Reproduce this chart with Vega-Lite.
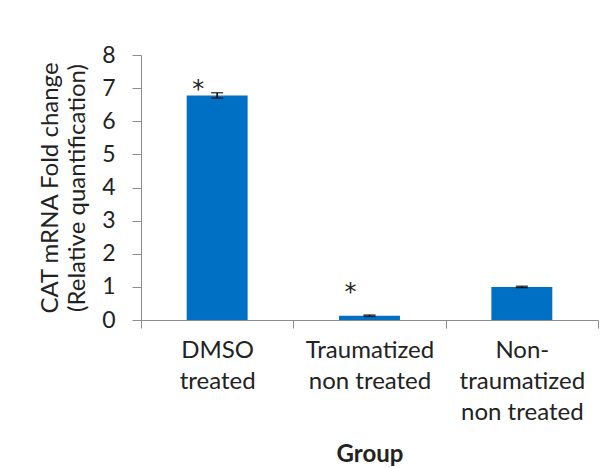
{
  "$schema": "https://vega.github.io/schema/vega-lite/v6.json",
  "autosize": "none",
  "width": 457,
  "height": 265,
  "padding": {"left": 141, "top": 55, "right": 10, "bottom": 148},
  "background": "white",
  "config": {
    "font": "Lato",
    "view": {"stroke": null},
    "axis": {"labelFont": "Lato", "titleFont": "Lato", "labelColor": "#222", "titleColor": "#222", "domainColor": "#8c8c8c", "tickColor": "#8c8c8c", "grid": false},
    "axisY": {"titleFontSize": 24, "titleFontWeight": "normal", "titleLineHeight": 27, "titlePadding": 12, "labelFontSize": 23, "labelOverlap": false, "tickSize": 9, "labelPadding": 17}
  },
  "datasets": {
    "bars": [
      {"group": "DMSO|treated", "value": 6.78, "err": 0.08},
      {"group": "Traumatized|non treated", "value": 0.13, "err": 0.02},
      {"group": "Non-|traumatized|non treated", "value": 1.0, "err": 0.02}
    ],
    "stars": [
      {"group": "DMSO|treated", "y": 7.05, "text": "*"},
      {"group": "Traumatized|non treated", "y": 0.95, "text": "*"}
    ]
  },
  "encoding": {
    "x": {
      "field": "group", "type": "nominal", "sort": null,
      "scale": {"paddingInner": 0, "paddingOuter": 0},
      "axis": {"title": "Group", "titleFontSize": 24, "titleFontWeight": "bold", "titlePadding": 18,
               "labelExpr": "split(datum.label, '|')", "labelFontSize": 24, "labelLineHeight": 31,
               "labelAngle": 0, "labelPadding": 10, "tickBand": "extent", "tickSize": 8, "labelBaseline": "top"}
    }
  },
  "layer": [
    {
      "data": {"name": "bars"},
      "mark": {"type": "bar", "color": "#0070C4", "width": {"band": 0.4}},
      "encoding": {
        "y": {"field": "value", "type": "quantitative", "scale": {"domain": [0, 8]},
              "axis": {"title": ["CAT mRNA Fold change", "(Relative quantification)"], "values": [0,1,2,3,4,5,6,7,8]}}
      }
    },
    {
      "data": {"name": "bars"},
      "transform": [{"calculate": "datum.value - datum.err", "as": "lo"}, {"calculate": "datum.value + datum.err", "as": "hi"}],
      "mark": {"type": "rule", "color": "black", "strokeWidth": 1.5},
      "encoding": {"y": {"field": "lo", "type": "quantitative", "axis": {"title": ["CAT mRNA Fold change", "(Relative quantification)"], "values": [0,1,2,3,4,5,6,7,8]}}, "y2": {"field": "hi"}}
    },
    {
      "data": {"name": "bars"},
      "transform": [{"calculate": "datum.value - datum.err", "as": "lo"}],
      "mark": {"type": "tick", "color": "black", "size": 12, "thickness": 1.5},
      "encoding": {"y": {"field": "lo", "type": "quantitative", "axis": {"title": ["CAT mRNA Fold change", "(Relative quantification)"], "values": [0,1,2,3,4,5,6,7,8]}}}
    },
    {
      "data": {"name": "bars"},
      "transform": [{"calculate": "datum.value + datum.err", "as": "hi"}],
      "mark": {"type": "tick", "color": "black", "size": 12, "thickness": 1.5},
      "encoding": {"y": {"field": "hi", "type": "quantitative", "axis": {"title": ["CAT mRNA Fold change", "(Relative quantification)"], "values": [0,1,2,3,4,5,6,7,8]}}}
    },
    {
      "data": {"name": "stars"},
      "mark": {"type": "text", "font": "DejaVu Sans", "fontSize": 24, "dx": -19, "dy": 4, "color": "#222", "baseline": "middle"},
      "encoding": {"y": {"field": "y", "type": "quantitative", "axis": {"title": ["CAT mRNA Fold change", "(Relative quantification)"], "values": [0,1,2,3,4,5,6,7,8]}}, "text": {"field": "text"}}
    }
  ]
}
